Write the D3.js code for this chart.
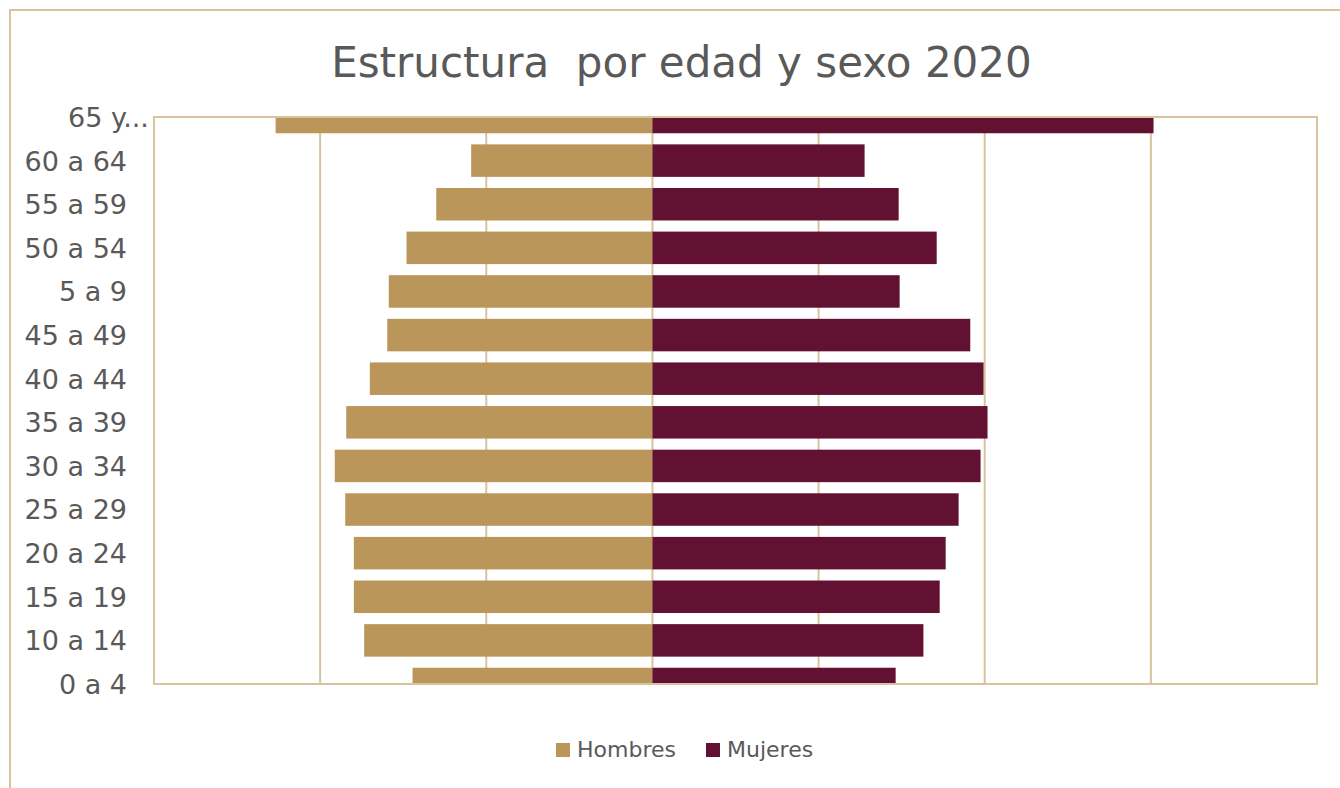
<!DOCTYPE html>
<html>
<head>
<meta charset="utf-8">
<script src="https://cdn.jsdelivr.net/npm/d3@7"></script>
<style>
  html, body { margin: 0; padding: 0; background: #ffffff; }
  svg { display: block; font-family: "DejaVu Sans", Verdana, sans-serif; }
</style>
</head>
<body>
<svg id="chart" width="1340" height="788"></svg>
<script>
// ---- Data ----
const categories = ["65 y...", "60 a 64", "55 a 59", "50 a 54", "5 a 9", "45 a 49", "40 a 44",
                    "35 a 39", "30 a 34", "25 a 29", "20 a 24", "15 a 19", "10 a 14", "0 a 4"];
const hombres = [2268, 1091, 1301, 1480, 1587, 1596, 1701, 1843, 1912, 1849, 1797, 1797, 1735, 1444];
const mujeres = [3016, 1277, 1482, 1711, 1488, 1913, 1993, 2017, 1975, 1843, 1765, 1729, 1631, 1464];
const seriesNames = ["Hombres", "Mujeres"];
const xTicks = [-2000, -1000, 0, 1000, 2000, 3000];
const titleText = "Estructura  por edad y sexo 2020";

// ---- Styles ----
const colors = { Hombres: "#BA965A", Mujeres: "#621132" };
const borderColor = "#D8C39F";
const textColor = "#595959";

const svg = d3.select("#chart");
const plot = { left: 154, right: 1317, top: 117, bottom: 684 };

// outer chart border
svg.append("rect")
  .attr("x", 10).attr("y", 10)
  .attr("width", 1400).attr("height", 900)
  .attr("fill", "#ffffff")
  .attr("stroke", borderColor).attr("stroke-width", 2);

// title
svg.append("text")
  .attr("x", 681.5).attr("y", 77)
  .attr("text-anchor", "middle")
  .style("white-space", "pre")
  .attr("font-size", 42)
  .attr("fill", textColor)
  .text(titleText);

const x = d3.scaleLinear().domain([-3000, 4000]).range([plot.left, plot.right]);
const y = d3.scalePoint().domain(categories).range([plot.top, plot.bottom]).padding(0);
const barH = 32.5;

// gridlines
svg.append("g").selectAll("line").data(xTicks).join("line")
  .attr("x1", d => x(d)).attr("x2", d => x(d))
  .attr("y1", plot.top).attr("y2", plot.bottom)
  .attr("stroke", borderColor).attr("stroke-width", 2);

// clip
svg.append("clipPath").attr("id", "plotclip")
  .append("rect")
  .attr("x", plot.left).attr("y", plot.top)
  .attr("width", plot.right - plot.left).attr("height", plot.bottom - plot.top);

const bars = svg.append("g").attr("clip-path", "url(#plotclip)");
const rows = categories.map((c, i) => ({ cat: c, h: hombres[i], m: mujeres[i] }));

bars.selectAll("rect.h").data(rows).join("rect")
  .attr("class", "h")
  .attr("x", d => x(-d.h))
  .attr("width", d => x(0) - x(-d.h))
  .attr("y", d => y(d.cat) - barH / 2)
  .attr("height", barH)
  .attr("fill", colors.Hombres);

bars.selectAll("rect.m").data(rows).join("rect")
  .attr("class", "m")
  .attr("x", x(0))
  .attr("width", d => x(d.m) - x(0))
  .attr("y", d => y(d.cat) - barH / 2)
  .attr("height", barH)
  .attr("fill", colors.Mujeres);

// plot area border
svg.append("rect")
  .attr("x", plot.left).attr("y", plot.top)
  .attr("width", plot.right - plot.left).attr("height", plot.bottom - plot.top)
  .attr("fill", "none")
  .attr("stroke", borderColor).attr("stroke-width", 2);

// y axis
const yAxis = d3.axisLeft(y).tickSize(0).tickPadding(27);
const gy = svg.append("g").attr("transform", `translate(${plot.left},0)`).call(yAxis);
gy.select(".domain").remove();
gy.selectAll("text")
  .attr("font-family", "'DejaVu Sans', Verdana, sans-serif")
  .attr("font-size", 27)
  .attr("fill", textColor)
  .attr("dy", "0.35em");

// truncated label: right-align "65 y" and let "..." overflow
gy.selectAll(".tick text").each(function(d) {
  if (d.endsWith("...")) {
    const t = d3.select(this);
    const base = d.slice(0, -3);
    t.text(base);
    const w = this.getComputedTextLength();
    const xEnd = +t.attr("x");
    t.attr("text-anchor", "start").attr("x", xEnd - w);
    t.append("tspan").text("...");
  }
});

// legend
const legendItems = [
  { name: seriesNames[0], sx: 556, tx: 577 },
  { name: seriesNames[1], sx: 706, tx: 727 }
];
const lg = svg.append("g");
lg.selectAll("rect").data(legendItems).join("rect")
  .attr("x", d => d.sx).attr("y", 743)
  .attr("width", 14).attr("height", 14)
  .attr("fill", d => colors[d.name]);
lg.selectAll("text").data(legendItems).join("text")
  .attr("x", d => d.tx).attr("y", 757)
  .attr("font-size", 22)
  .attr("fill", textColor)
  .text(d => d.name);
</script>
</body>
</html>
